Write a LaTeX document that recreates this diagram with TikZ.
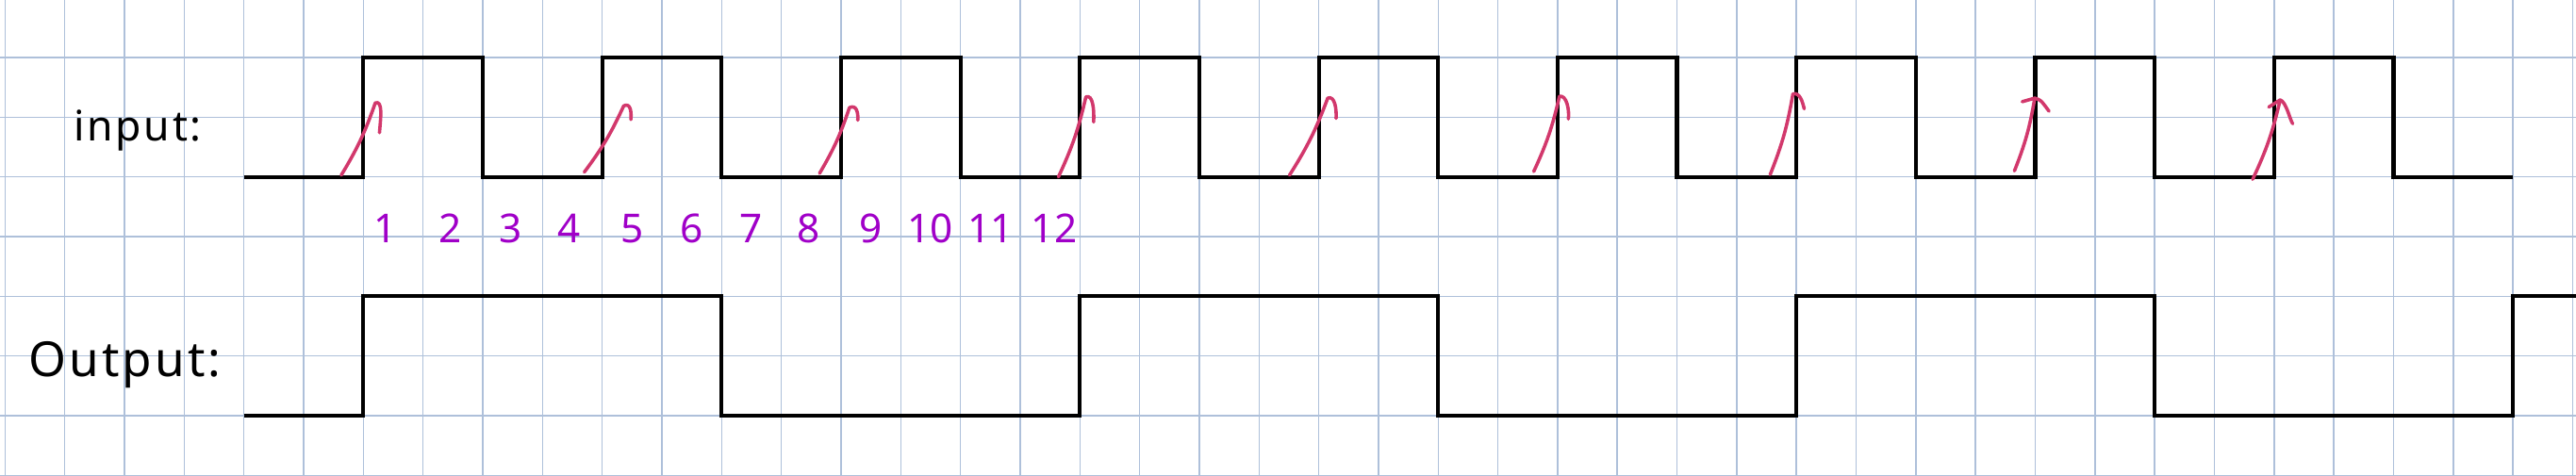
\documentclass[tikz,border=0pt]{standalone}
\usepackage{fontspec}
\usepackage{xcolor}
\usepackage{tikz}
\newfontfamily\handfont[LetterSpace=6]{Noto Sans}
\newfontfamily\digitfont{Noto Sans}
\definecolor{gridblue}{HTML}{AEC0DA}
\definecolor{penred}{HTML}{D2386C}
\definecolor{penpurple}{HTML}{A000C8}

\begin{document}
\begin{tikzpicture}[scale=1,
        gridline/.style={gridblue, line width=0.7pt},
        signal/.style={black, line width=1.9pt},
        edgemark/.style={penred, line width=1.6pt, line cap=round, line join=round},
        signame/.style={anchor=base west, inner sep=0pt, font=\handfont\fontsize{20}{20}\selectfont},
        count/.style={penpurple, anchor=base, inner sep=0pt, font=\digitfont\fontsize{19}{19}\selectfont}]
        % Coordinates
        \coordinate (A) at (5.63, 5.03);
        \coordinate (B) at (6.20, 6.24);
        \coordinate (C) at (6.27, 5.74);
        \coordinate (D) at (9.70, 5.08);
        \coordinate (E) at (10.36, 6.19);
        \coordinate (F) at (10.48, 5.96);
        \coordinate (G) at (13.64, 5.06);
        \coordinate (H) at (14.14, 6.16);
        \coordinate (I) at (14.28, 5.95);
        \coordinate (J) at (17.64, 5.00);
        \coordinate (K) at (18.10, 6.34);
        \coordinate (L) at (18.23, 5.92);
        \coordinate (M) at (21.51, 5.03);
        \coordinate (N) at (22.15, 6.32);
        \coordinate (O) at (22.29, 5.98);
        \coordinate (P) at (25.60, 5.09);
        \coordinate (Q) at (26.03, 6.35);
        \coordinate (R) at (26.18, 5.97);
        \coordinate (S) at (29.56, 5.04);
        \coordinate (T) at (29.94, 6.39);
        \coordinate (U) at (30.13, 6.14);
        \coordinate (V) at (33.65, 5.10);
        \coordinate (W) at (33.99, 6.32);
        \coordinate (X) at (34.23, 6.10);
        \coordinate (Y) at (33.78, 6.26);
        \coordinate (Z) at (37.64, 4.96);
        \coordinate (AA) at (38.10, 6.29);
        \coordinate (AB) at (38.31, 5.89);
        \coordinate (AC) at (37.91, 6.17);

        % Drawing
        \useasboundingbox (-0.085,-0.01) rectangle (43.055,7.964);
        \draw[gridline] (-0.085,-0.01) grid (43.055,7.964);
        \draw[signal] (4,5) -- (6,5) -- (6,7) -- (8,7) -- (8,5) -- (10,5) -- (10,7) -- (12,7) -- (12,5)
            -- (14,5) -- (14,7) -- (16,7) -- (16,5) -- (18,5) -- (18,7) -- (20,7) -- (20,5)
            -- (22,5) -- (22,7) -- (24,7) -- (24,5) -- (26,5) -- (26,7) -- (28,7) -- (28,5)
            -- (30,5) -- (30,7) -- (32,7) -- (32,5) -- (34,5) -- (34,7) -- (36,7) -- (36,5)
            -- (38,5) -- (38,7) -- (40,7) -- (40,5) -- (42,5);
        \draw[signal] (4,1) -- (6,1) -- (6,3) -- (12,3) -- (12,1) -- (18,1) -- (18,3) -- (24,3)
            -- (24,1) -- (30,1) -- (30,3) -- (36,3) -- (36,1) -- (42,1) -- (42,3) -- (43.2,3);
        \draw[edgemark] (A) to[bend right=6] (B) .. controls +(0.13,0.05) and +(0.02,0.25) .. (C);
        \draw[edgemark] (D) to[bend right=6] (E) .. controls +(0.12,0.06) and +(0.01,0.12) .. (F);
        \draw[edgemark] (G) to[bend right=6] (H) .. controls +(0.12,0.06) and +(0.01,0.12) .. (I);
        \draw[edgemark] (J) to[bend right=6] (K) .. controls +(0.12,0.05) and +(0.01,0.2) .. (L);
        \draw[edgemark] (M) to[bend right=6] (N) .. controls +(0.12,0.05) and +(0.01,0.15) .. (O);
        \draw[edgemark] (P) to[bend right=6] (Q) .. controls +(0.12,0.03) and +(0.02,0.15) .. (R);
        \draw[edgemark] (S) to[bend right=6] (T) .. controls +(0.12,0.03) and +(-0.03,0.12) .. (U);
        \draw[edgemark] (V) to[bend right=6] (W) .. controls +(0.1,-0.03) .. (X) (Y) -- (W);
        \draw[edgemark] (Z) to[bend right=6] (AA) .. controls +(0.1,-0.03) and +(-0.05,0.08) .. (AB) (AC) -- (AA);
        \node[signame] (inlabel) at (1.15,5.6) {input:};
        \node[signame, font=\handfont\fontsize{23}{23}\selectfont] (outlabel) at (0.39,1.66) {Output:};
        \node[count] (n1) at (6.37,3.9) {1};
        \node[count] (n2) at (7.46,3.9) {2};
        \node[count] (n3) at (8.46,3.9) {3};
        \node[count] (n4) at (9.45,3.9) {4};
        \node[count] (n5) at (10.5,3.9) {5};
        \node[count] (n6) at (11.5,3.9) {6};
        \node[count] (n7) at (12.5,3.9) {7};
        \node[count] (n8) at (13.45,3.9) {8};
        \node[count] (n9) at (14.5,3.9) {9};
        \node[count] (n10) at (15.5,3.9) {10};
        \node[count] (n11) at (16.5,3.9) {11};
        \node[count] (n12) at (17.57,3.9) {12};
    \end{tikzpicture}
\end{document}
